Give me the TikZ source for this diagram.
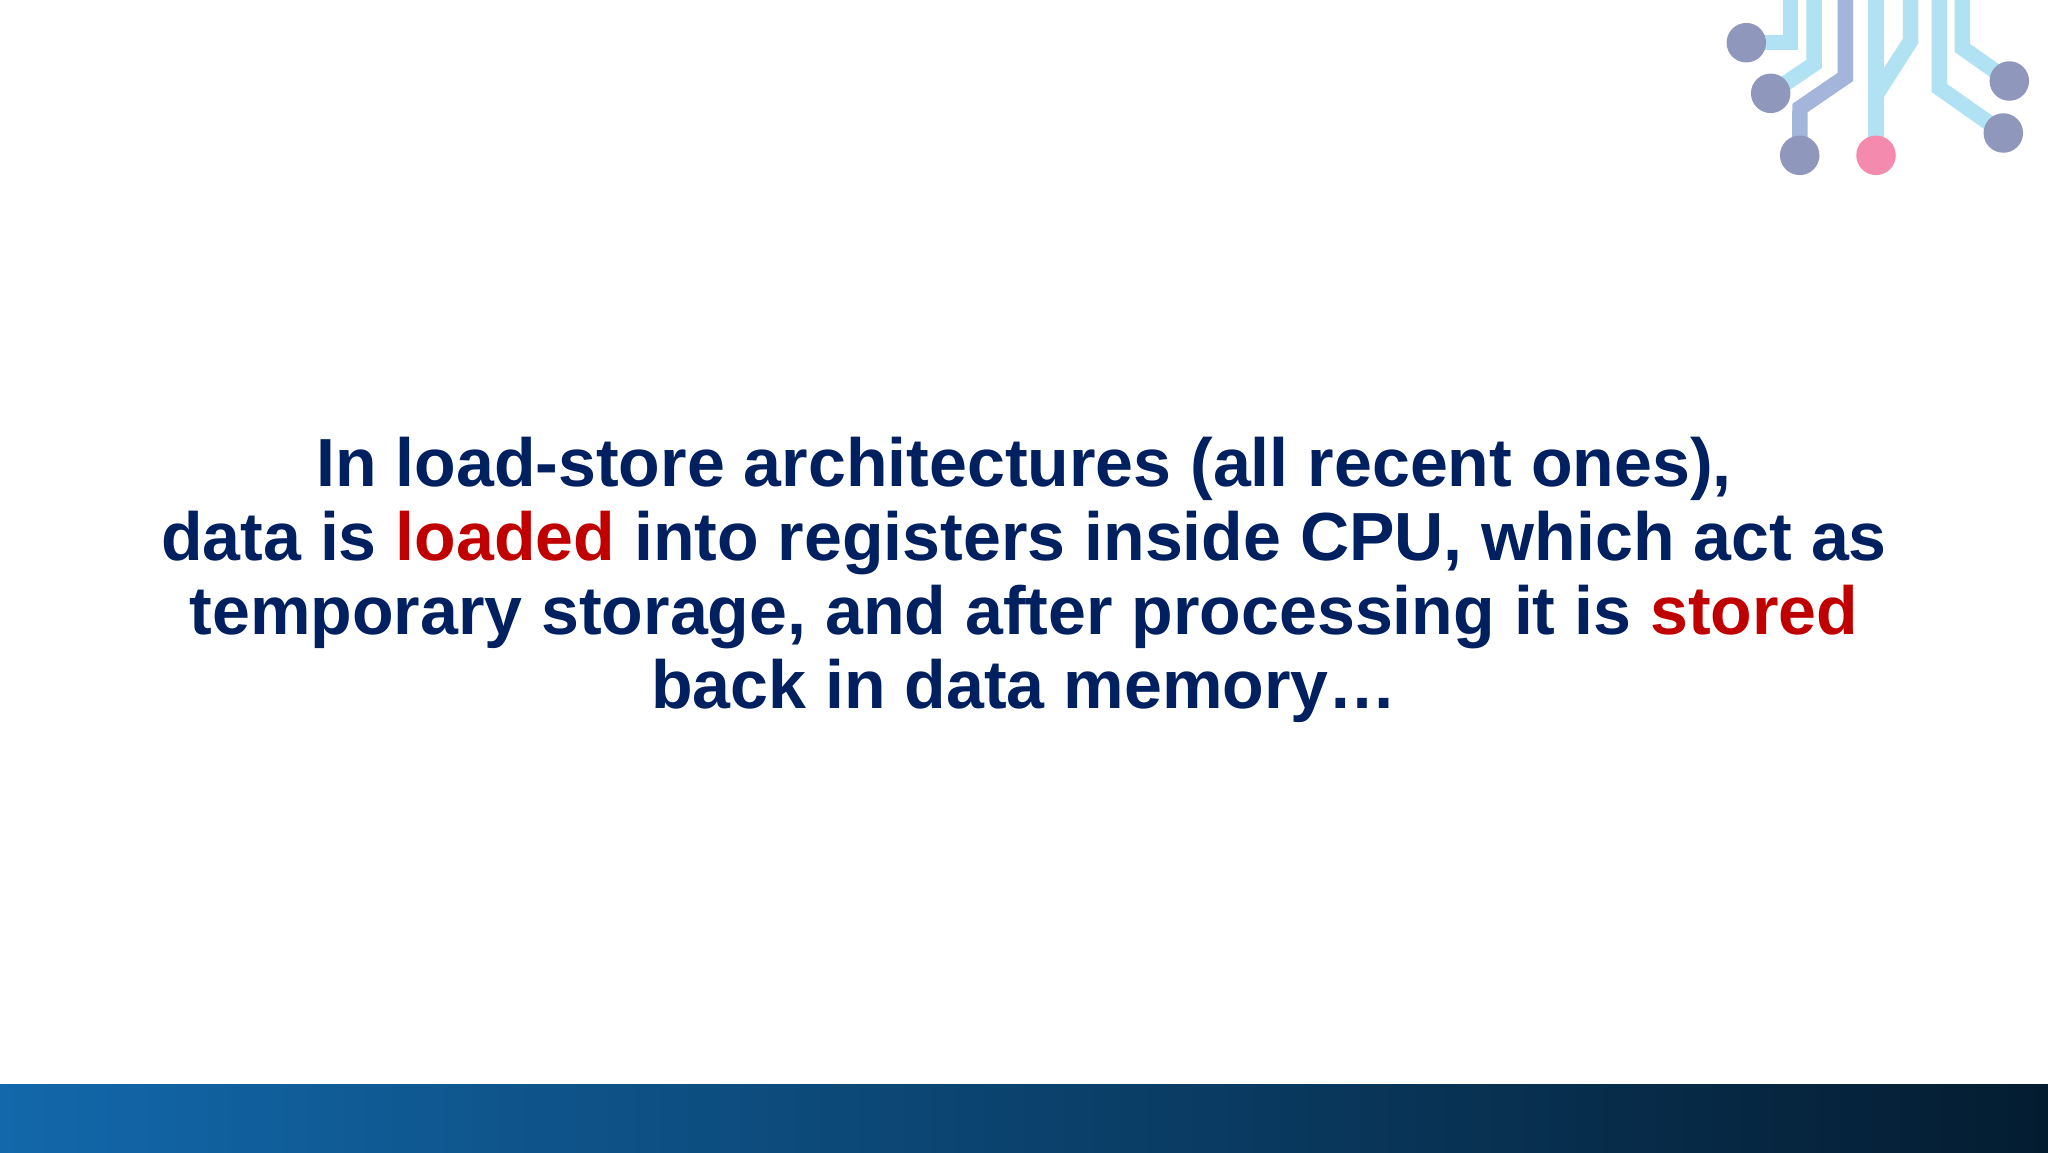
\documentclass[tikz,border=0pt]{standalone}
\usepackage{fontspec}
\usetikzlibrary{backgrounds}
\setmainfont{Liberation Sans}
\definecolor{textblue}{HTML}{002060}
\definecolor{textred}{HTML}{C00000}
\definecolor{tracelight}{HTML}{B0E2F3}
\definecolor{tracedark}{HTML}{A3B5DB}
\definecolor{dotgrey}{HTML}{8F97BC}
\definecolor{dotpink}{HTML}{F48AAE}
\definecolor{barleft}{HTML}{1268AB}
\definecolor{barmid}{HTML}{0B4C7E}
\definecolor{barright}{HTML}{041C30}
\tikzset{
  tracel/.style={draw=tracelight,line width=15.5pt,miter limit=10},
  traced/.style={draw=tracedark,line width=15.5pt,miter limit=10},
  dot/.style={circle,minimum size=39.5pt,inner sep=0pt,fill=dotgrey},
  pinkdot/.style={dot,fill=dotpink},
  body/.style={align=center,text=textblue,font=\fontsize{68.1}{74}\selectfont\bfseries,inner sep=0pt}
}
\begin{document}
\begin{tikzpicture}[x=1pt,y=-1pt]
\useasboundingbox (0,0) rectangle (2048,1152);
\shade[left color=barleft,middle color=barmid,right color=barright] (0,1084) rectangle (2048,1152);
\node[dot] (c1) at (1746.3,42.7) {};
\node[dot] (c2) at (1770.7,93.3) {};
\node[dot] (c3) at (1799.7,155.3) {};
\node[pinkdot] (c4) at (1876,155.3) {};
\node[dot] (c5) at (2009.3,81) {};
\node[dot] (c6) at (2003.3,133) {};
\begin{scope}[on background layer]
\fill[white] (0,0) rectangle (2048,1084);
\coordinate (t1) at (1790.7,0);
\coordinate (t2) at (1814,0);
\coordinate (t3) at (1845.3,0);
\coordinate (t4) at (1876,0);
\coordinate (t5) at (1910.7,0);
\coordinate (t6) at (1939.3,0);
\coordinate (t7) at (1962.3,0);
\coordinate (b5) at (1876,95);
\draw[tracel] (t1) -- (1790.7,42.7) -- (c1.center);
\draw[tracel] (t2) -- (1814,64) -- (c2.center);
\draw[traced] (t3) -- (1845.3,77) -- (1800,108) -- (c3.center);
\draw[tracel] (t4) -- (c4.center);
\draw[tracel] (t5) -- (1910.7,40.7) -- (b5);
\draw[tracel] (t6) -- (1939.3,88) -- (c6.center);
\draw[tracel] (t7) -- (1962.3,48) -- (c5.center);
\end{scope}
\node[body] (txt) at (1024,580) {In load-store architectures (all recent ones),\\
data is \textcolor{textred}{loaded} into registers inside CPU, which act as\\
temporary storage, and after processing it is \textcolor{textred}{stored}\\
back in data memory…};
\end{tikzpicture}
\end{document}
